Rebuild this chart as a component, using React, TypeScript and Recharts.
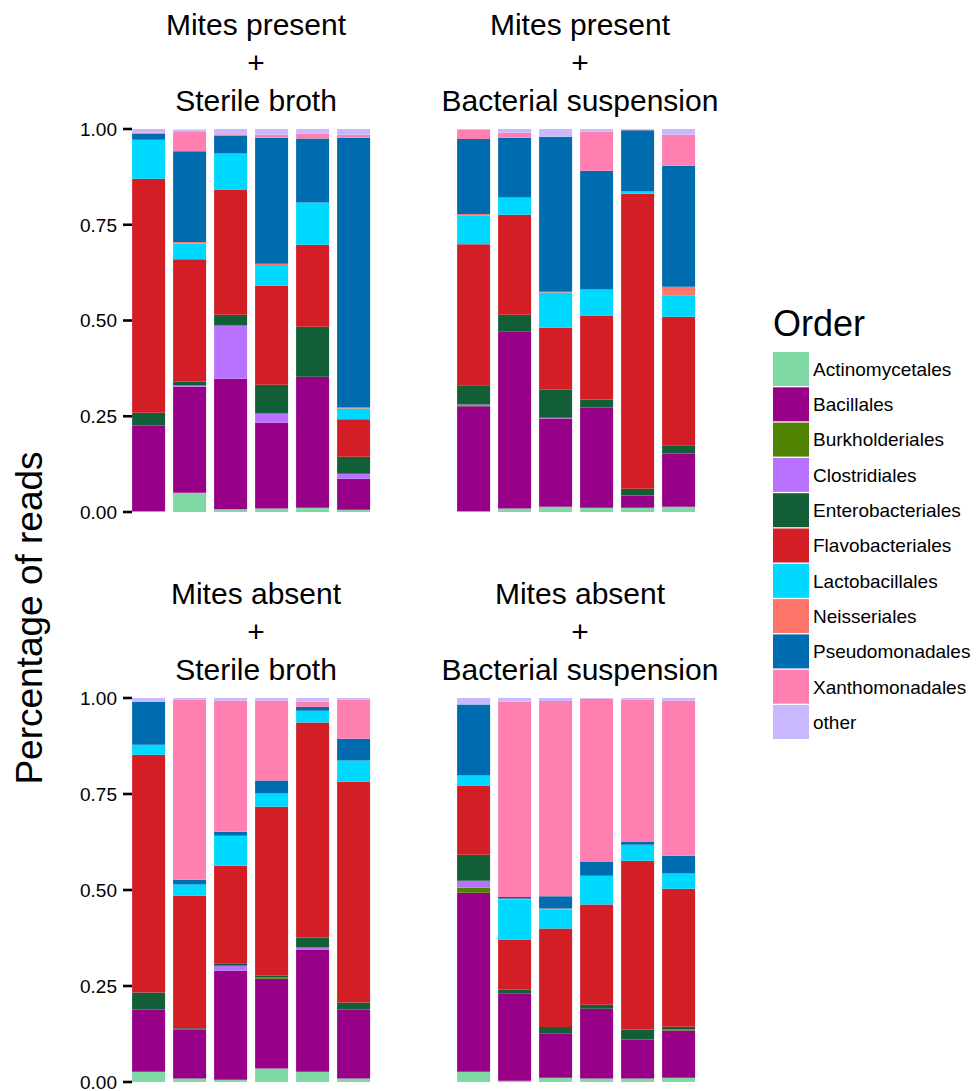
import React from 'react';
import { BarChart, Bar, XAxis, YAxis } from 'recharts';

const FONT = '"Liberation Sans", Arial, Helvetica, sans-serif';

const ORDERS = [
  'Actinomycetales',
  'Bacillales',
  'Burkholderiales',
  'Clostridiales',
  'Enterobacteriales',
  'Flavobacteriales',
  'Lactobacillales',
  'Neisseriales',
  'Pseudomonadales',
  'Xanthomonadales',
  'other',
];

const COLORS = [
  '#80D8A4',
  '#990088',
  '#4E8200',
  '#B972FF',
  '#115E37',
  '#D41E26',
  '#00D9FF',
  '#FF776B',
  '#006CB0',
  '#FF80B0',
  '#C9B8FF',
];

const SAMPLES = ['1', '2', '3', '4', '5', '6'];
const Y_TICKS = [0, 0.25, 0.5, 0.75, 1];

// Each row: one bar; values in ORDERS order
const presentSterile = [
  [0.002, 0.224, 0, 0, 0.033, 0.611, 0.102, 0, 0.016, 0.003, 0.009],
  [0.05, 0.277, 0, 0.003, 0.01, 0.32, 0.041, 0.004, 0.237, 0.05, 0.007],
  [0.007, 0.341, 0, 0.139, 0.028, 0.327, 0.094, 0, 0.047, 0.003, 0.014],
  [0.009, 0.224, 0, 0.024, 0.075, 0.259, 0.054, 0.003, 0.329, 0.008, 0.015],
  [0.011, 0.342, 0, 0, 0.131, 0.214, 0.11, 0, 0.167, 0.013, 0.012],
  [0.006, 0.081, 0, 0.013, 0.044, 0.098, 0.028, 0.003, 0.704, 0.008, 0.015],
];

const presentBacterial = [
  [0.002, 0.274, 0.003, 0.002, 0.05, 0.368, 0.076, 0.003, 0.196, 0.024, 0.002],
  [0.009, 0.463, 0, 0, 0.043, 0.261, 0.045, 0, 0.156, 0.013, 0.01],
  [0.014, 0.23, 0, 0.002, 0.073, 0.162, 0.092, 0.002, 0.405, 0, 0.02],
  [0.011, 0.262, 0, 0, 0.021, 0.219, 0.068, 0, 0.31, 0.102, 0.007],
  [0.011, 0.032, 0, 0, 0.018, 0.77, 0.005, 0.001, 0.16, 0.002, 0.002],
  [0.014, 0.139, 0, 0, 0.021, 0.336, 0.056, 0.022, 0.316, 0.081, 0.015],
];

const absentSterile = [
  [0.027, 0.162, 0, 0, 0.044, 0.619, 0.026, 0, 0.112, 0, 0.01],
  [0.009, 0.128, 0, 0, 0.003, 0.345, 0.029, 0, 0.013, 0.469, 0.004],
  [0.006, 0.284, 0, 0.013, 0.006, 0.254, 0.078, 0, 0.011, 0.341, 0.007],
  [0.035, 0.234, 0.003, 0, 0.005, 0.44, 0.034, 0, 0.034, 0.208, 0.007],
  [0.027, 0.318, 0, 0.005, 0.026, 0.56, 0.031, 0, 0.01, 0.013, 0.01],
  [0.009, 0.18, 0, 0, 0.018, 0.575, 0.055, 0, 0.057, 0.102, 0.004],
];

const absentBacterial = [
  [0.027, 0.466, 0.013, 0.018, 0.068, 0.18, 0.026, 0, 0.185, 0, 0.017],
  [0.003, 0.227, 0, 0, 0.01, 0.131, 0.104, 0.002, 0.005, 0.508, 0.01],
  [0.011, 0.116, 0, 0, 0.016, 0.257, 0.05, 0.002, 0.032, 0.508, 0.008],
  [0.009, 0.182, 0, 0, 0.01, 0.261, 0.075, 0, 0.037, 0.424, 0.002],
  [0.009, 0.102, 0, 0, 0.026, 0.439, 0.042, 0, 0.008, 0.37, 0.004],
  [0.011, 0.123, 0.003, 0, 0.007, 0.359, 0.04, 0, 0.046, 0.404, 0.007],
];

const TITLES = [
  ['Mites present', '+', 'Sterile broth'],
  ['Mites present', '+', 'Bacterial suspension'],
  ['Mites absent', '+', 'Sterile broth'],
  ['Mites absent', '+', 'Bacterial suspension'],
];

function toRows(bars: number[][]) {
  return bars.map((vals, i) => {
    const row: Record<string, number | string> = { sample: SAMPLES[i] };
    ORDERS.forEach((o, j) => {
      row[o] = vals[j];
    });
    return row;
  });
}

const YTick = (props: any) => {
  const { x, y, payload } = props;
  return (
    <g>
      <line x1={x - 5} x2={x + 4} y1={y} y2={y} stroke="#000" strokeWidth={2.6} />
      <text
        x={x - 11}
        y={y}
        dy="0.36em"
        textAnchor="end"
        fill="#000"
        fontSize={19}
        fontFamily={FONT}
      >
        {Number(payload.value).toFixed(2)}
      </text>
    </g>
  );
};

const AXIS_W = 128;
const PLOT_W = 246;
const PAD = 20;

function Panel({
  bars,
  plotLeft,
  plotTop,
  plotHeight,
  showAxis,
}: {
  bars: number[][];
  plotLeft: number;
  plotTop: number;
  plotHeight: number;
  showAxis: boolean;
}) {
  return (
    <div style={{ position: 'absolute', left: plotLeft - AXIS_W, top: plotTop - PAD }}>
      <BarChart
        width={AXIS_W + PLOT_W + PAD}
        height={plotHeight + 2 * PAD}
        data={toRows(bars)}
        margin={{ top: PAD, bottom: PAD, right: PAD, left: showAxis ? 0 : AXIS_W }}
        barCategoryGap="10%"
      >
        <XAxis dataKey="sample" hide />
        <YAxis
          hide={!showAxis}
          width={AXIS_W}
          domain={[0, 1]}
          ticks={Y_TICKS}
          allowDataOverflow
          axisLine={false}
          tickLine={false}
          tickSize={0}
          tickMargin={0}
          tick={<YTick />}
          interval={0}
        />
        {ORDERS.map((o, j) => (
          <Bar key={o} dataKey={o} stackId="s" fill={COLORS[j]} isAnimationActive={false} />
        ))}
      </BarChart>
    </div>
  );
}

const TITLE_X = [256, 580, 256, 580];
const TITLE_Y0 = [35, 35, 604, 604];

export default function App() {
  return (
    <div
      style={{
        position: 'absolute',
        left: 0,
        top: 0,
        width: 980,
        height: 1091,
        background: '#fff',
        fontFamily: FONT,
        overflow: 'hidden',
      }}
    >
      <Panel bars={presentSterile} plotLeft={128} plotTop={129.3} plotHeight={383} showAxis />
      <Panel bars={presentBacterial} plotLeft={453} plotTop={129.3} plotHeight={383} showAxis={false} />
      <Panel bars={absentSterile} plotLeft={128} plotTop={698.3} plotHeight={384} showAxis />
      <Panel bars={absentBacterial} plotLeft={453} plotTop={698.3} plotHeight={384} showAxis={false} />

      <svg
        width={980}
        height={1091}
        style={{ position: 'absolute', left: 0, top: 0, pointerEvents: 'none' }}
      >
        {TITLES.map((lines, p) =>
          lines.map((t, k) => (
            <text
              key={`${p}-${k}`}
              x={TITLE_X[p]}
              y={TITLE_Y0[p] + k * 38}
              textAnchor="middle"
              fontSize={30}
              fontFamily={FONT}
              fill="#000"
            >
              {t}
            </text>
          ))
        )}
        <text
          x={0}
          y={0}
          transform="translate(42,618) rotate(-90)"
          textAnchor="middle"
          fontSize={37}
          fontFamily={FONT}
          fill="#000"
        >
          Percentage of reads
        </text>
        <text x={773} y={336} fontSize={36} fontFamily={FONT} fill="#000">
          Order
        </text>
        {ORDERS.map((o, i) => (
          <g key={o}>
            <rect x={773} y={352 + i * 35.3} width={36} height={34} fill={COLORS[i]} />
            <text
              x={813}
              y={352 + i * 35.3 + 17}
              dy="0.36em"
              fontSize={19}
              fontFamily={FONT}
              fill="#000"
            >
              {o}
            </text>
          </g>
        ))}
      </svg>
    </div>
  );
}
